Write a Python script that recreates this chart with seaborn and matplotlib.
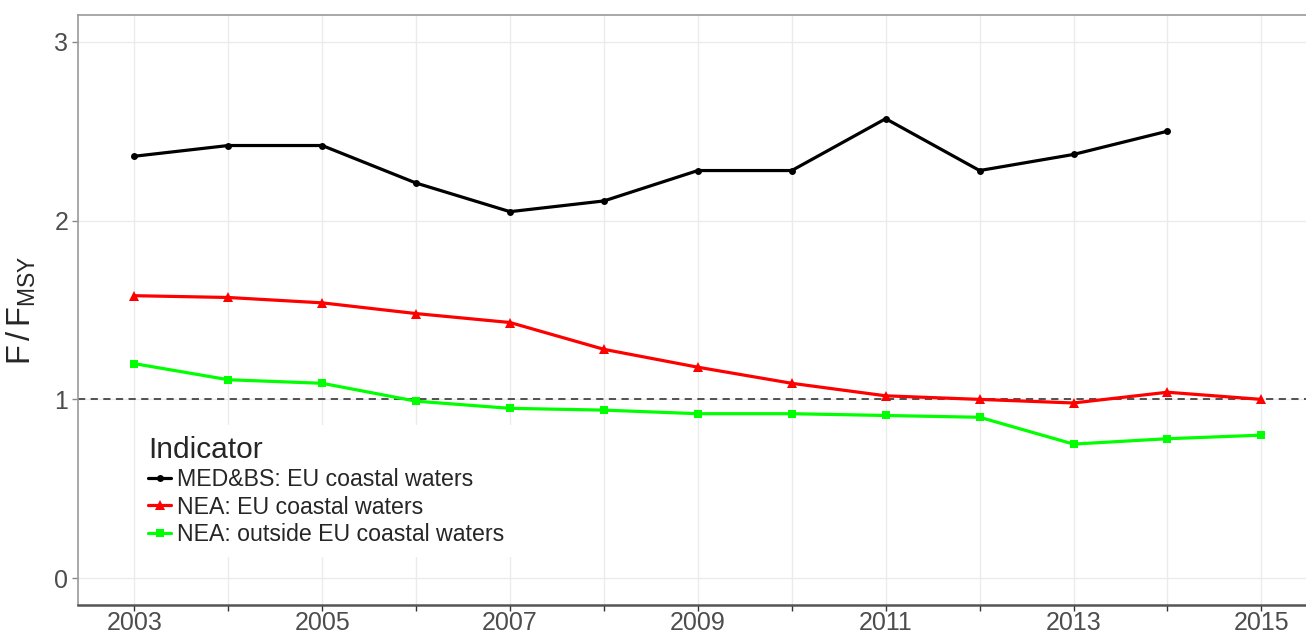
import seaborn as sns
import matplotlib.pyplot as plt
from matplotlib.lines import Line2D
from matplotlib.ticker import FixedLocator
import pandas as pd

years_med = list(range(2003, 2015))
years_nea = list(range(2003, 2016))

med_eu = [2.36, 2.42, 2.42, 2.21, 2.05, 2.11, 2.28, 2.28, 2.57, 2.28, 2.37, 2.50]
nea_eu = [1.58, 1.57, 1.54, 1.48, 1.43, 1.28, 1.18, 1.09, 1.02, 1.00, 0.98, 1.04, 1.00]
nea_out = [1.20, 1.11, 1.09, 0.99, 0.95, 0.94, 0.92, 0.92, 0.91, 0.90, 0.75, 0.78, 0.80]

labels = [
    "MED&BS: EU coastal waters",
    "NEA: EU coastal waters",
    "NEA: outside EU coastal waters",
]
colors = ["#000000", "#FF0000", "#00FF00"]
markers = ["o", "^", "s"]
msizes = [5, 6.5, 6]

df = pd.concat(
    [
        pd.DataFrame({"year": years_med, "value": med_eu, "Indicator": labels[0]}),
        pd.DataFrame({"year": years_nea, "value": nea_eu, "Indicator": labels[1]}),
        pd.DataFrame({"year": years_nea, "value": nea_out, "Indicator": labels[2]}),
    ]
)

sns.set_style("white")
plt.rcParams["font.family"] = ["Liberation Sans", "DejaVu Sans"]
plt.rcParams["mathtext.fontset"] = "custom"
plt.rcParams["mathtext.rm"] = "Liberation Sans"
plt.rcParams["mathtext.it"] = "Liberation Sans"

fig = plt.figure(figsize=(13.06, 6.39), dpi=100)
# panel: left edge at 78px, top at 15px, bottom at 605px (right side runs off the image)
ax = fig.add_axes([78 / 1306, 34 / 639, 1239.7 / 1306, 590 / 639])

ax.axhline(1, color="#444444", lw=1.3, ls=(0, (4, 3)), zorder=1)

sns.lineplot(
    data=df, x="year", y="value", hue="Indicator", style="Indicator",
    palette=colors, markers=markers, dashes=False, linewidth=2.3,
    markeredgewidth=0, legend=False, ax=ax, zorder=3,
)
for line, ms in zip(ax.get_lines()[1:], msizes):
    line.set_markersize(ms)

ax.set_xlim(2002.4, 2015.6)
ax.set_ylim(-0.15, 3.15)
ax.xaxis.set_major_locator(FixedLocator(years_nea[::2]))
ax.xaxis.set_minor_locator(FixedLocator(years_nea[1::2]))
ax.set_yticks([0, 1, 2, 3])
ax.grid(which="both", axis="x", color="#EBEBEB", lw=1, zorder=0)
ax.grid(which="major", axis="y", color="#EBEBEB", lw=1, zorder=0)
ax.set_axisbelow(True)

ax.tick_params(axis="both", which="both", labelsize=18, labelcolor="#4D4D4D",
               color="#333333", length=4, width=1, bottom=True, left=True, pad=3)
ax.tick_params(axis="x", pad=0.5)
ax.tick_params(axis="y", color="#888888")

for side in ["left", "top"]:
    ax.spines[side].set_color("#999999")
    ax.spines[side].set_linewidth(1.2)
ax.spines["bottom"].set_color("#555555")
ax.spines["bottom"].set_linewidth(1.8)
ax.spines["right"].set_visible(False)

ax.set_xlabel("")
ax.set_ylabel(r"$\mathrm{F\,/\,F_{MSY}}$", fontsize=23.5, labelpad=12)

handles = [
    Line2D([], [], color=c, marker=m, markersize=ms, markeredgewidth=0, lw=2.3)
    for c, m, ms in zip(colors, markers, msizes)
]
leg = ax.legend(
    handles, labels, title="Indicator", loc="upper left",
    bbox_to_anchor=(47 / 1239.7, 1 - 398 / 590), fontsize=16.7,
    title_fontsize=21.5, frameon=True, fancybox=False, framealpha=1,
    facecolor="white", edgecolor="none", handlelength=1.0,
    handletextpad=0.25, labelspacing=0.18, borderpad=0.5,
)
leg._legend_box.align = "left"
leg.set_zorder(2)

fig.savefig("out.png", dpi=100)
